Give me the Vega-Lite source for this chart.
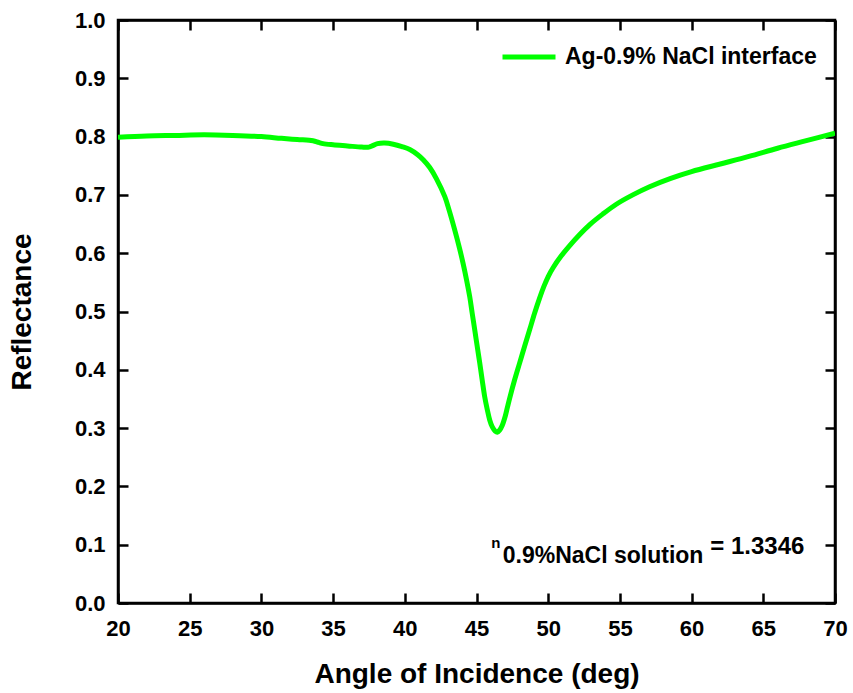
{
  "$schema": "https://vega.github.io/schema/vega-lite/v6.json",
  "width": 717,
  "height": 583,
  "autosize": {"type": "none"},
  "padding": {"left": 118, "top": 20, "right": 18, "bottom": 90},
  "background": "white",
  "config": {
    "font": "Liberation Sans",
    "view": {"stroke": "black", "strokeWidth": 2.5},
    "axis": {
      "domainColor": "black", "domainWidth": 2.5,
      "tickColor": "black", "tickWidth": 2.5, "tickSize": -10,
      "labelFont": "Liberation Sans", "labelFontSize": 22, "labelFontWeight": "bold", "labelColor": "black",
      "titleFont": "Liberation Sans", "titleFontSize": 28, "titleFontWeight": "bold", "titleColor": "black",
      "grid": false, "labelFlush": false, "labelOverlap": false
    }
  },
  "datasets": {
    "curve": [
      {"angle": 20, "R": 0.799, "series": "Ag-0.9% NaCl interface"},
      {"angle": 22, "R": 0.801, "series": "Ag-0.9% NaCl interface"},
      {"angle": 24, "R": 0.802, "series": "Ag-0.9% NaCl interface"},
      {"angle": 26, "R": 0.803, "series": "Ag-0.9% NaCl interface"},
      {"angle": 28, "R": 0.802, "series": "Ag-0.9% NaCl interface"},
      {"angle": 30, "R": 0.800, "series": "Ag-0.9% NaCl interface"},
      {"angle": 31.4, "R": 0.797, "series": "Ag-0.9% NaCl interface"},
      {"angle": 32.5, "R": 0.795, "series": "Ag-0.9% NaCl interface"},
      {"angle": 33.6, "R": 0.793, "series": "Ag-0.9% NaCl interface"},
      {"angle": 34.0, "R": 0.790, "series": "Ag-0.9% NaCl interface"},
      {"angle": 34.3, "R": 0.788, "series": "Ag-0.9% NaCl interface"},
      {"angle": 35, "R": 0.786, "series": "Ag-0.9% NaCl interface"},
      {"angle": 36, "R": 0.784, "series": "Ag-0.9% NaCl interface"},
      {"angle": 37, "R": 0.782, "series": "Ag-0.9% NaCl interface"},
      {"angle": 37.5, "R": 0.782, "series": "Ag-0.9% NaCl interface"},
      {"angle": 37.8, "R": 0.785, "series": "Ag-0.9% NaCl interface"},
      {"angle": 38.1, "R": 0.788, "series": "Ag-0.9% NaCl interface"},
      {"angle": 38.6, "R": 0.789, "series": "Ag-0.9% NaCl interface"},
      {"angle": 39.2, "R": 0.787, "series": "Ag-0.9% NaCl interface"},
      {"angle": 39.8, "R": 0.783, "series": "Ag-0.9% NaCl interface"},
      {"angle": 40.35, "R": 0.778, "series": "Ag-0.9% NaCl interface"},
      {"angle": 40.9, "R": 0.769, "series": "Ag-0.9% NaCl interface"},
      {"angle": 41.3, "R": 0.760, "series": "Ag-0.9% NaCl interface"},
      {"angle": 41.74, "R": 0.747, "series": "Ag-0.9% NaCl interface"},
      {"angle": 42.2, "R": 0.728, "series": "Ag-0.9% NaCl interface"},
      {"angle": 42.79, "R": 0.697, "series": "Ag-0.9% NaCl interface"},
      {"angle": 43.1, "R": 0.673, "series": "Ag-0.9% NaCl interface"},
      {"angle": 43.48, "R": 0.640, "series": "Ag-0.9% NaCl interface"},
      {"angle": 43.8, "R": 0.610, "series": "Ag-0.9% NaCl interface"},
      {"angle": 44.06, "R": 0.583, "series": "Ag-0.9% NaCl interface"},
      {"angle": 44.3, "R": 0.555, "series": "Ag-0.9% NaCl interface"},
      {"angle": 44.53, "R": 0.525, "series": "Ag-0.9% NaCl interface"},
      {"angle": 44.7, "R": 0.497, "series": "Ag-0.9% NaCl interface"},
      {"angle": 44.88, "R": 0.468, "series": "Ag-0.9% NaCl interface"},
      {"angle": 45.05, "R": 0.440, "series": "Ag-0.9% NaCl interface"},
      {"angle": 45.23, "R": 0.411, "series": "Ag-0.9% NaCl interface"},
      {"angle": 45.4, "R": 0.382, "series": "Ag-0.9% NaCl interface"},
      {"angle": 45.57, "R": 0.354, "series": "Ag-0.9% NaCl interface"},
      {"angle": 45.75, "R": 0.332, "series": "Ag-0.9% NaCl interface"},
      {"angle": 45.92, "R": 0.314, "series": "Ag-0.9% NaCl interface"},
      {"angle": 46.1, "R": 0.302, "series": "Ag-0.9% NaCl interface"},
      {"angle": 46.3, "R": 0.295, "series": "Ag-0.9% NaCl interface"},
      {"angle": 46.45, "R": 0.293, "series": "Ag-0.9% NaCl interface"},
      {"angle": 46.6, "R": 0.296, "series": "Ag-0.9% NaCl interface"},
      {"angle": 46.8, "R": 0.305, "series": "Ag-0.9% NaCl interface"},
      {"angle": 47.0, "R": 0.320, "series": "Ag-0.9% NaCl interface"},
      {"angle": 47.15, "R": 0.335, "series": "Ag-0.9% NaCl interface"},
      {"angle": 47.32, "R": 0.352, "series": "Ag-0.9% NaCl interface"},
      {"angle": 47.65, "R": 0.382, "series": "Ag-0.9% NaCl interface"},
      {"angle": 48.0, "R": 0.411, "series": "Ag-0.9% NaCl interface"},
      {"angle": 48.35, "R": 0.440, "series": "Ag-0.9% NaCl interface"},
      {"angle": 48.71, "R": 0.469, "series": "Ag-0.9% NaCl interface"},
      {"angle": 49.05, "R": 0.497, "series": "Ag-0.9% NaCl interface"},
      {"angle": 49.4, "R": 0.523, "series": "Ag-0.9% NaCl interface"},
      {"angle": 49.7, "R": 0.543, "series": "Ag-0.9% NaCl interface"},
      {"angle": 50.0, "R": 0.560, "series": "Ag-0.9% NaCl interface"},
      {"angle": 50.34, "R": 0.575, "series": "Ag-0.9% NaCl interface"},
      {"angle": 50.9, "R": 0.595, "series": "Ag-0.9% NaCl interface"},
      {"angle": 51.5, "R": 0.613, "series": "Ag-0.9% NaCl interface"},
      {"angle": 52.2, "R": 0.632, "series": "Ag-0.9% NaCl interface"},
      {"angle": 52.9, "R": 0.649, "series": "Ag-0.9% NaCl interface"},
      {"angle": 53.8, "R": 0.667, "series": "Ag-0.9% NaCl interface"},
      {"angle": 54.75, "R": 0.684, "series": "Ag-0.9% NaCl interface"},
      {"angle": 55.9, "R": 0.700, "series": "Ag-0.9% NaCl interface"},
      {"angle": 57.07, "R": 0.714, "series": "Ag-0.9% NaCl interface"},
      {"angle": 58.5, "R": 0.728, "series": "Ag-0.9% NaCl interface"},
      {"angle": 60, "R": 0.740, "series": "Ag-0.9% NaCl interface"},
      {"angle": 62, "R": 0.753, "series": "Ag-0.9% NaCl interface"},
      {"angle": 64, "R": 0.766, "series": "Ag-0.9% NaCl interface"},
      {"angle": 66, "R": 0.780, "series": "Ag-0.9% NaCl interface"},
      {"angle": 68, "R": 0.793, "series": "Ag-0.9% NaCl interface"},
      {"angle": 70, "R": 0.806, "series": "Ag-0.9% NaCl interface"}
    ]
  },
  "layer": [
    {
      "data": {"name": "curve"},
      "mark": {"type": "line", "strokeWidth": 5, "interpolate": "catmull-rom", "clip": true},
      "encoding": {
        "x": {"field": "angle", "type": "quantitative", "scale": {"domain": [20, 70], "nice": false, "zero": false},
              "axis": {"orient": "bottom", "values": [20, 25, 30, 35, 40, 45, 50, 55, 60, 65, 70], "title": "Angle of Incidence (deg)", "labelPadding": 25, "titlePadding": 21}},
        "y": {"field": "R", "type": "quantitative", "scale": {"domain": [0, 1], "nice": false},
              "axis": {"orient": "left", "values": [0, 0.1, 0.2, 0.3, 0.4, 0.5, 0.6, 0.7, 0.8, 0.9, 1.0], "format": ".1f", "title": "Reflectance", "labelPadding": 23, "titlePadding": 38}},
        "color": {"field": "series", "type": "nominal", "scale": {"range": ["#00ff00"]},
                  "legend": {"orient": "none", "legendX": 382, "legendY": 8, "title": null, "symbolType": "stroke", "symbolSize": 2809, "symbolStrokeWidth": 5, "labelFont": "Liberation Sans", "labelFontSize": 23, "labelFontWeight": "bold", "labelColor": "black", "labelOffset": 7, "labelLimit": 0, "padding": 0}}
      }
    },
    {
      "data": {"name": "curve"},
      "mark": {"type": "line", "opacity": 0},
      "encoding": {
        "x": {"field": "angle", "type": "quantitative", "scale": {"domain": [20, 70], "nice": false, "zero": false},
              "axis": {"orient": "top", "values": [20, 25, 30, 35, 40, 45, 50, 55, 60, 65, 70], "labels": false, "title": null}},
        "y": {"field": "R", "type": "quantitative", "scale": {"domain": [0, 1], "nice": false},
              "axis": {"orient": "right", "values": [0, 0.1, 0.2, 0.3, 0.4, 0.5, 0.6, 0.7, 0.8, 0.9, 1.0], "labels": false, "title": null}}
      }
    },
    {
      "data": {"values": [{"angle": 46.02, "R": 0.0943, "label": "n"}]},
      "mark": {"type": "text", "align": "left", "baseline": "alphabetic", "fontSize": 15, "fontWeight": "bold", "font": "Liberation Sans", "color": "black"},
      "encoding": {
        "x": {"field": "angle", "type": "quantitative", "scale": {"domain": [20, 70], "nice": false, "zero": false}, "axis": null},
        "y": {"field": "R", "type": "quantitative", "scale": {"domain": [0, 1], "nice": false}, "axis": null},
        "text": {"field": "label"}
      }
    },
    {
      "data": {"values": [{"angle": 46.83, "R": 0.0686, "label": "0.9%NaCl solution"}]},
      "mark": {"type": "text", "align": "left", "baseline": "alphabetic", "fontSize": 23, "fontWeight": "bold", "font": "Liberation Sans", "color": "black"},
      "encoding": {
        "x": {"field": "angle", "type": "quantitative", "scale": {"domain": [20, 70], "nice": false, "zero": false}, "axis": null},
        "y": {"field": "R", "type": "quantitative", "scale": {"domain": [0, 1], "nice": false}, "axis": null},
        "text": {"field": "label"}
      }
    },
    {
      "data": {"values": [{"angle": 61.3, "R": 0.084, "label": "= 1.3346"}]},
      "mark": {"type": "text", "align": "left", "baseline": "alphabetic", "fontSize": 24, "fontWeight": "bold", "font": "Liberation Sans", "color": "black"},
      "encoding": {
        "x": {"field": "angle", "type": "quantitative", "scale": {"domain": [20, 70], "nice": false, "zero": false}, "axis": null},
        "y": {"field": "R", "type": "quantitative", "scale": {"domain": [0, 1], "nice": false}, "axis": null},
        "text": {"field": "label"}
      }
    }
  ],
  "resolve": {"axis": {"x": "independent", "y": "independent"}}
}
